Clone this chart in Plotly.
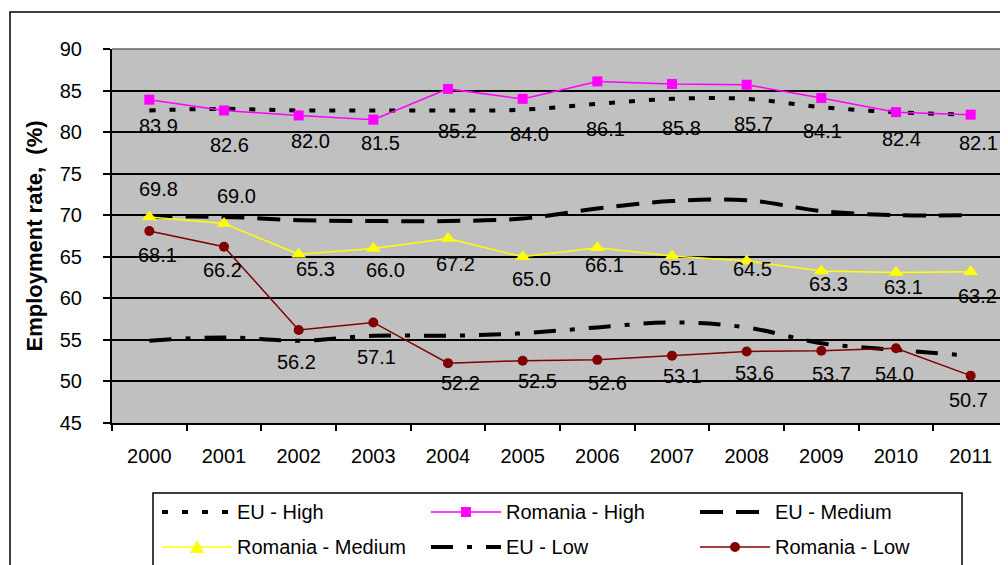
import plotly.graph_objects as go

years = [str(y) for y in range(2000, 2012)]

eu_high = [82.6, 82.8, 82.6, 82.6, 82.6, 82.7, 83.4, 84.0, 84.0, 83.0, 82.4, 82.1]
ro_high = [83.9, 82.6, 82.0, 81.5, 85.2, 84.0, 86.1, 85.8, 85.7, 84.1, 82.4, 82.1]
eu_medium = [69.8, 69.8, 69.4, 69.3, 69.3, 69.6, 70.8, 71.7, 71.8, 70.5, 70.0, 70.0]
ro_medium = [69.8, 69.0, 65.3, 66.0, 67.2, 65.0, 66.1, 65.1, 64.5, 63.3, 63.1, 63.2]
eu_low = [54.9, 55.3, 54.9, 55.5, 55.5, 55.8, 56.5, 57.1, 56.5, 54.6, 53.8, 53.1]
ro_low = [68.1, 66.2, 56.2, 57.1, 52.2, 52.5, 52.6, 53.1, 53.6, 53.7, 54.0, 50.7]

# label offsets in px (dx right, dy down) - the labels were dragged around by hand
high_dx = [9, 5, 12, 7, 9, 7, 8, 9, 7, 1, 5, 8]
high_dy = [26, 34, 26, 23, 42, 35, 48, 44, 39, 33, 27, 28]
med_dx = [9, 12, 17, 12, 7, 9, 7, 6, 6, 7, 7, 7]
med_dy = [-28, -28, 15, 22, 26, 22, 17, 12, 8, 13, 14, 24]
low_dx = [8, -2, -2, 3, 12, 15, 10, 10, 8, 10, -2, -2]
low_dy = [24, 23, 32, 35, 20, 20, 23, 20, 21, 23, 26, 24]

FONT = "Liberation Sans, Arial, sans-serif"

# the page body has an 8px margin, so the figure is drawn 8px lower and to the right
OFF = 8
W, H = 1008 - OFF, 565 - OFF
# plot area in figure pixels, used to place the hand-made legend
PL, PR, PT, PB = 112 - OFF, 1008 - OFF, 49 - OFF, 423 - OFF


def px(x):
    # screen x -> paper
    return (x - OFF - PL) / (PR - PL)


def py(y):
    # screen y -> paper
    return (PB - (y - OFF)) / (PB - PT)


series = [
    dict(name="EU - High", y=eu_high, color="black", width=4, dash="6px,14px", marker=None),
    dict(name="Romania - High", y=ro_high, color="#FF00FF", width=1.5, dash="solid", marker="square"),
    dict(name="EU - Medium", y=eu_medium, color="black", width=4, dash="23px,13px", marker=None),
    dict(name="Romania - Medium", y=ro_medium, color="#FFFF00", width=1.5, dash="solid", marker="triangle-up"),
    dict(name="EU - Low", y=eu_low, color="black", width=4, dash="22px,14px,5px,14px", marker=None),
    dict(name="Romania - Low", y=ro_low, color="#800000", width=1.5, dash="solid", marker="circle"),
]
marker_size = {"square": 10, "triangle-up": 13, "circle": 10}

fig = go.Figure()
for s in series:
    if s["marker"] is None:
        fig.add_trace(go.Scatter(x=list(range(12)), y=s["y"], name=s["name"], mode="lines",
                                 line=dict(color=s["color"], width=s["width"], dash=s["dash"], shape="spline")))
    else:
        fig.add_trace(go.Scatter(x=list(range(12)), y=s["y"], name=s["name"], mode="lines+markers",
                                 line=dict(color=s["color"], width=s["width"]),
                                 marker=dict(symbol=s["marker"], size=marker_size[s["marker"]], color=s["color"])))

annotations = []
for vals, dxs, dys in [(ro_high, high_dx, high_dy), (ro_medium, med_dx, med_dy), (ro_low, low_dx, low_dy)]:
    for i, (v, dx, dy) in enumerate(zip(vals, dxs, dys)):
        annotations.append(dict(x=i, y=v, text=f"{v:.1f}", showarrow=False,
                                xshift=dx, yshift=-dy, font=dict(size=20, color="black", family=FONT)))

shapes = [
    dict(type="rect", xref="paper", yref="paper", x0=px(10), x1=px(1030), y0=py(620), y1=py(12),
         line=dict(color="black", width=1.5), layer="below"),
    dict(type="line", xref="paper", yref="paper", x0=0, x1=1, y0=1, y1=1,
         line=dict(color="#666666", width=1.5)),
    dict(type="rect", xref="paper", yref="paper", x0=px(153), x1=px(962), y0=py(567), y1=py(493),
         line=dict(color="black", width=1.5)),
]

# legend drawn by hand so the line samples are as long as in the original
col_x = [162, 431, 700]
row_y = [512, 547]
for k, s in enumerate(series):
    x0 = col_x[k % 3]
    y0 = row_y[k // 3]
    shapes.append(dict(type="line", xref="paper", yref="paper", x0=px(x0), x1=px(x0 + 70),
                       y0=py(y0), y1=py(y0), line=dict(color=s["color"], width=s["width"], dash=s["dash"])))
    cx = x0 + 35
    if s["marker"] == "square":
        shapes.append(dict(type="rect", xref="paper", yref="paper", x0=px(cx - 5), x1=px(cx + 5),
                           y0=py(y0 + 5), y1=py(y0 - 5), fillcolor=s["color"], line=dict(width=0)))
    elif s["marker"] == "circle":
        shapes.append(dict(type="circle", xref="paper", yref="paper", x0=px(cx - 5), x1=px(cx + 5),
                           y0=py(y0 + 5), y1=py(y0 - 5), fillcolor=s["color"], line=dict(width=0)))
    elif s["marker"] == "triangle-up":
        shapes.append(dict(type="path", xref="paper", yref="paper",
                           path=f"M {px(cx - 7)},{py(y0 + 6)} L {px(cx + 7)},{py(y0 + 6)} L {px(cx)},{py(y0 - 7)} Z",
                           fillcolor=s["color"], line=dict(width=0)))
    annotations.append(dict(xref="paper", yref="paper", x=px(x0 + 73), y=py(y0), text=s["name"],
                            showarrow=False, xanchor="left", yanchor="middle",
                            font=dict(size=20, color="black", family=FONT)))

fig.update_layout(
    width=W, height=H,
    margin=dict(l=PL, r=W - PR, t=PT, b=H - PB),
    paper_bgcolor="white",
    plot_bgcolor="#C0C0C0",
    font=dict(family=FONT, size=20, color="black"),
    showlegend=False,
    annotations=annotations,
    shapes=shapes,
    xaxis=dict(range=[-0.5, 11.5], tickmode="array", tickvals=list(range(12)), ticktext=years,
               showgrid=False, zeroline=False, ticks="", showline=True, linecolor="black", linewidth=2,
               ticklabelstandoff=14, tickfont=dict(size=20)),
    xaxis2=dict(overlaying="x", range=[-0.5, 11.5], tickmode="linear", tick0=-0.5, dtick=1,
                showticklabels=False, ticks="outside", ticklen=7, tickcolor="black", tickwidth=2,
                showgrid=False, zeroline=False, side="bottom"),
    yaxis=dict(range=[45, 90], dtick=5, showgrid=True, gridcolor="black", gridwidth=1.5,
               ticks="outside", ticklen=7, tickcolor="black", tickwidth=2,
               showline=True, linecolor="black", linewidth=2, zeroline=False,
               ticklabelstandoff=17, tickfont=dict(size=20),
               title=dict(text="<b>Employment rate,  (%)</b>", font=dict(size=22), standoff=11)),
)
# invisible trace just to bring up the boundary ticks of the category axis
fig.add_trace(go.Scatter(x=[0], y=[45], xaxis="x2", mode="markers", marker=dict(opacity=0),
                         showlegend=False, hoverinfo="skip"))

fig.write_html("out.html")
